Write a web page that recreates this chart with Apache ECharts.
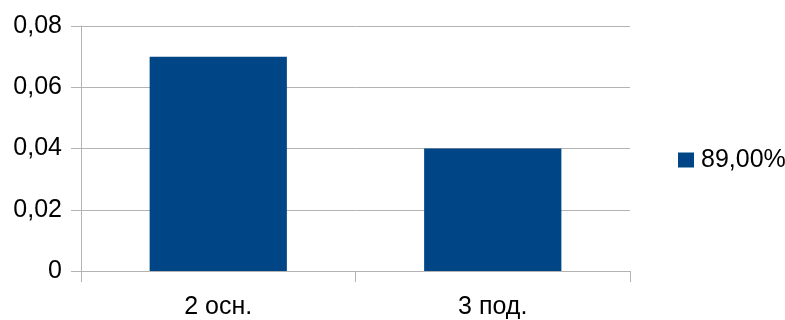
<!DOCTYPE html>
<html><head><meta charset="utf-8">
<script src="https://cdn.jsdelivr.net/npm/echarts@6/dist/echarts.min.js"></script>
<style>html,body{margin:0;padding:0;background:#fff}#c{width:785px;height:320px}</style>
</head><body><div id="c"></div>
<script>
const categories = ['2 осн.', '3 под.'];
const seriesName = '89,00%';
const values = [0.07, 0.04];
const yTicks = [0, 0.02, 0.04, 0.06, 0.08];

const font = 'Liberation Sans';
const chart = echarts.init(document.getElementById('c'), null, {renderer: 'canvas'});
chart.setOption({
  animation: false,
  backgroundColor: '#fff',
  grid: {left: 81, right: 155, top: 26, bottom: 48, containLabel: false},
  legend: {
    left: 673, top: 'middle', orient: 'vertical',
    itemWidth: 16, itemHeight: 15, itemGap: 10,
    icon: 'rect',
    textStyle: {fontFamily: font, fontSize: 25, color: '#000', padding: [3,0,0,2]},
    data: [seriesName]
  },
  xAxis: {
    type: 'category', data: categories,
    axisLine: {show: true, lineStyle: {color: '#b3b3b3', width: 1}},
    axisTick: {show: true, length: 11, lineStyle: {color: '#b3b3b3'}},
    axisLabel: {fontFamily: font, fontSize: 25, color: '#000', margin: 24},
    splitLine: {show: false}
  },
  yAxis: {
    type: 'value', min: 0, max: 0.08, interval: 0.02,
    axisLine: {show: true, lineStyle: {color: '#b3b3b3', width: 1}},
    axisTick: {show: true, length: 10, lineStyle: {color: '#b3b3b3'}},
    axisLabel: {fontFamily: font, fontSize: 25, color: '#000', margin: 19,
      formatter: v => { const t = yTicks.find(x => Math.abs(x - v) < 1e-9); return (t === 0 ? '0' : t.toFixed(2).replace('.', ',')); }},
    splitLine: {show: true, lineStyle: {color: '#b3b3b3', width: 1}}
  },
  series: [{
    name: seriesName, type: 'bar', data: values,
    barCategoryGap: '50%',
    itemStyle: {color: '#004586'}
  }]
});
</script></body></html>
